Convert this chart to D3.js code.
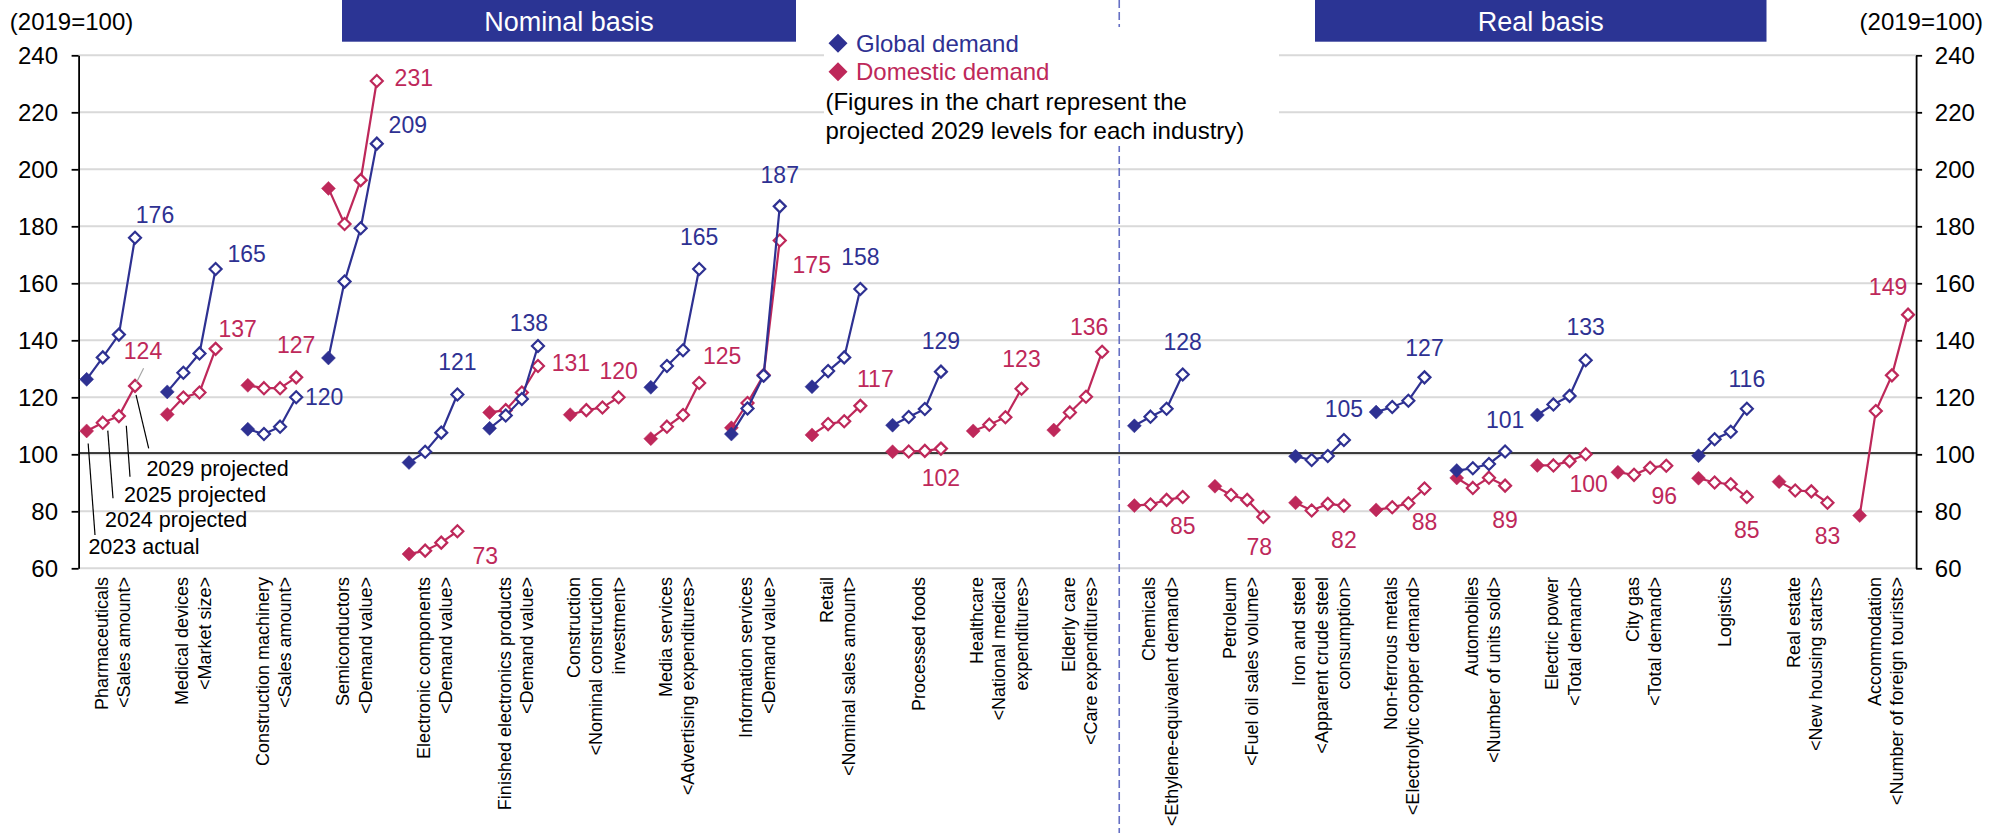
<!DOCTYPE html>
<html>
<head>
<meta charset="utf-8">
<script src="https://cdn.jsdelivr.net/npm/d3@7/dist/d3.min.js"></script>
<style>
  html, body { margin: 0; padding: 0; background: #fff; }
  svg { display: block; font-family: "Liberation Sans", Arial, Helvetica, sans-serif; }
</style>
</head>
<body>
<svg id="chart" width="2004" height="833"></svg>
<script>
// Industry groups (label lines shown under the axis)
const categories = [
  ["Pharmaceuticals", "<Sales amount>"],
  ["Medical devices", "<Market size>"],
  ["Construction machinery", "<Sales amount>"],
  ["Semiconductors", "<Demand value>"],
  ["Electronic components", "<Demand value>"],
  ["Finished electronics products", "<Demand value>"],
  ["Construction", "<Nominal construction", "investment>"],
  ["Media services", "<Advertising expenditures>"],
  ["Information services", "<Demand value>"],
  ["Retail", "<Nominal sales amount>"],
  ["Processed foods"],
  ["Healthcare", "<National medical", "expenditures>"],
  ["Elderly care", "<Care expenditures>"],
  ["Chemicals", "<Ethylene-equivalent demand>"],
  ["Petroleum", "<Fuel oil sales volume>"],
  ["Iron and steel", "<Apparent crude steel", "consumption>"],
  ["Non-ferrous metals", "<Electrolytic copper demand>"],
  ["Automobiles", "<Number of units sold>"],
  ["Electric power", "<Total demand>"],
  ["City gas", "<Total demand>"],
  ["Logistics"],
  ["Real estate", "<New housing starts>"],
  ["Accommodation", "<Number of foreign tourists>"]
];
const nominalCount = 13;

const years = ["2023 actual", "2024 projected", "2025 projected", "2029 projected"];

// Index values (2019 = 100): 2023, 2024, 2025, 2029
const globalDemand = [
  [126.3, 134.0, 142.0, 176],
  [121.9, 128.6, 135.4, 165],
  [108.8, 107.1, 109.7, 120],
  [133.8, 160.6, 179.3, 209],
  [97.1, 100.9, 107.6, 121],
  [109.1, 113.6, 119.4, 138],
  null,
  [123.5, 131.0, 136.5, 165],
  [107.1, 116.1, 127.6, 187],
  [123.7, 129.2, 134.0, 158],
  [110.2, 113.1, 115.9, 129],
  null,
  null,
  [110.0, 113.2, 116.0, 128],
  null,
  [99.3, 98.0, 99.4, 105],
  [114.8, 116.6, 118.8, 127],
  [94.3, 95.1, 96.6, 101],
  [113.8, 117.5, 120.5, 133],
  null,
  [99.5, 105.3, 107.9, 116],
  null,
  null
];

const domesticDemand = [
  [108.2, 111.1, 113.4, 124],
  [114.0, 119.9, 121.7, 137],
  [124.2, 123.2, 123.2, 127],
  [193.3, 180.8, 196.2, 231],
  [65.0, 66.2, 69.0, 73],
  [114.7, 115.5, 121.7, 131],
  [113.9, 115.5, 116.4, 120],
  [105.5, 109.7, 113.8, 125],
  [109.3, 118.0, 127.8, 175],
  [106.8, 110.6, 111.6, 117],
  [100.9, 101.0, 101.2, 102],
  [108.2, 110.4, 113.0, 123],
  [108.5, 114.7, 120.2, 136],
  [82.0, 82.4, 84.0, 85],
  [88.8, 85.7, 84.0, 78],
  [83.0, 80.3, 82.6, 82],
  [80.5, 81.4, 82.8, 88],
  [91.7, 88.2, 91.8, 89],
  [96.1, 96.1, 97.6, 100],
  [93.7, 92.8, 95.3, 96],
  [91.6, 90.1, 89.5, 85],
  [90.4, 87.3, 87.0, 83],
  [78.5, 115.2, 127.7, 149]
];

const yTicks = [60, 80, 100, 120, 140, 160, 180, 200, 220, 240];

// Where each 2029 value label sits relative to its marker [dx, dy]
const globalLabelOffset = [
  [20, -23], [31, -15], [28, 0], [31, -19], [0, -32], [-9, -23], null, [0, -32],
  [0, -31], [0, -32], [0, -31], null, null, [0, -33], null, [0, -31],
  [0, -29], [0, -31], [0, -33], null, [0, -30], null, null
];
const domesticLabelOffset = [
  [8, -35], [22, -20], [0, -32], [37, -3], [28, 25], [33, -3], [0, -26], [23, -27],
  [32, 24], [15, -27], [0, 29], [0, -30], [-13, -25], [0, 29], [-4, 30], [0, 34],
  [0, 33], [0, 34], [3, 30], [-2, 30], [0, 33], [0, 33], [-20, -28]
];

const BLUE = "#2e3192";
const RED = "#be285a";
const HEADER = "#2b3494";

const svg = d3.select("#chart");

const slotsPerGroup = 5;
const x = d3.scaleLinear().domain([-0.5, categories.length * slotsPerGroup - 1.5]).range([78.6, 1916.1]);
const y = d3.scaleLinear().domain([60, 240]).range([568.3, 55.3]);
const xLeft = x.range()[0], xRight = x.range()[1];
const slot = (g, k) => g * slotsPerGroup + k;

// Horizontal gridlines
svg.append("g").selectAll("line").data(yTicks).join("line")
  .attr("x1", xLeft).attr("x2", xRight)
  .attr("y1", d => y(d)).attr("y2", d => y(d))
  .attr("stroke", "#d9d9d9").attr("stroke-width", 2);

// Reference line at 100
svg.append("line")
  .attr("x1", xLeft).attr("x2", xRight)
  .attr("y1", y(100) - 1.3).attr("y2", y(100) - 1.3)
  .attr("stroke", "#000").attr("stroke-width", 1.5);

// Divider between nominal and real basis
const divX = x(slot(nominalCount, -1)) + 1;
svg.append("line")
  .attr("x1", divX).attr("x2", divX).attr("y1", 0).attr("y2", 833)
  .attr("stroke", "#6670c4").attr("stroke-width", 1.6)
  .attr("stroke-dasharray", "8,4");

// Section headers
const headers = [
  { text: "Nominal basis", x0: 342, x1: 796 },
  { text: "Real basis", x0: 1315, x1: 1766.5 }
];
headers.forEach(h => {
  svg.append("rect").attr("x", h.x0).attr("y", 0).attr("width", h.x1 - h.x0).attr("height", 41.7)
    .attr("fill", HEADER);
  svg.append("text").attr("x", (h.x0 + h.x1) / 2).attr("y", 21.5)
    .attr("text-anchor", "middle").attr("dominant-baseline", "central")
    .attr("fill", "#fff").attr("font-size", 27).text(h.text);
});

// Axes
const axisL = svg.append("g").attr("transform", `translate(${xLeft},0)`)
  .call(d3.axisLeft(y).tickValues(yTicks).tickSize(7).tickSizeOuter(0).tickPadding(13.6));
const axisR = svg.append("g").attr("transform", `translate(${xRight},0)`)
  .call(d3.axisRight(y).tickValues(yTicks).tickSize(6).tickSizeOuter(0).tickPadding(12.7));
[axisL, axisR].forEach(a => {
  a.select(".domain").attr("stroke", "#000").attr("stroke-width", 1.8);
  a.selectAll(".tick line").attr("stroke", "#000").attr("stroke-width", 1.8);
  a.selectAll(".tick text").attr("font-size", 24).attr("fill", "#000")
    .attr("font-family", "Liberation Sans, Arial, sans-serif").attr("dy", null)
    .attr("dominant-baseline", "central");
});

// Unit captions
svg.append("text").attr("x", 9.8).attr("y", 21).attr("dominant-baseline", "central")
  .attr("font-size", 24).text("(2019=100)");
svg.append("text").attr("x", 1983).attr("y", 21).attr("dominant-baseline", "central")
  .attr("text-anchor", "end").attr("font-size", 24).text("(2019=100)");

// Legend
const legend = svg.append("g");
legend.append("rect").attr("x", 824).attr("y", 27).attr("width", 455).attr("height", 119).attr("fill", "#fff");
const diamond = r => `M0,${-r}L${r},0L0,${r}L${-r},0Z`;
[[BLUE, "Global demand", 43.3], [RED, "Domestic demand", 71.7]].forEach(([c, t, yy]) => {
  legend.append("path").attr("d", diamond(9.5)).attr("transform", `translate(838,${yy})`).attr("fill", c);
  legend.append("text").attr("x", 856).attr("y", yy).attr("dominant-baseline", "central")
    .attr("font-size", 24).attr("fill", c).text(t);
});
legend.append("text").attr("x", 825.4).attr("y", 101.7).attr("dominant-baseline", "central")
  .attr("font-size", 24).text("(Figures in the chart represent the");
legend.append("text").attr("x", 825.4).attr("y", 130.7).attr("dominant-baseline", "central")
  .attr("font-size", 24).text("projected 2029 levels for each industry)");

// Category labels (rotated)
const catG = svg.append("g");
categories.forEach((lines, g) => {
  const cx = (x(slot(g, 0)) + x(slot(g, 3))) / 2 + 2;
  const n = lines.length;
  lines.forEach((t, i) => {
    const lx = cx + (i - (n - 1) / 2) * 22.3;
    catG.append("text")
      .attr("transform", `translate(${lx},577) rotate(-90)`)
      .attr("text-anchor", "end").attr("dominant-baseline", "central")
      .attr("font-size", 18).attr("fill", "#000").text(t);
  });
});

// Year annotations with leader lines on the first group
const ann = svg.append("g");
const annSpec = [
  { k: 0, from: [1.5, 12.5], to: [95, 535], tx: 88.4, ty: 546.7 },
  { k: 1, from: [5, 8], to: [113, 498.3], tx: 105, ty: 520 },
  { k: 2, from: [7.4, 9.6], to: [130, 476.7], tx: 124, ty: 495 },
  { k: 3, from: [1, 9], to: [148.7, 448.3], tx: 146.4, ty: 469.3 }
];
annSpec.forEach(a => {
  const px = x(slot(0, a.k)), py = y(domesticDemand[0][a.k]);
  ann.append("line").attr("x1", px + a.from[0]).attr("y1", py + a.from[1])
    .attr("x2", a.to[0]).attr("y2", a.to[1]).attr("stroke", "#000").attr("stroke-width", 1.2);
  ann.append("text").attr("x", a.tx).attr("y", a.ty).attr("dominant-baseline", "central")
    .attr("font-size", 21.5).attr("fill", "#000").text(years[a.k]);
});

// Series lines and markers
function drawSeries(data, color, offsets) {
  const g = svg.append("g");
  const line = d3.line().x(d => x(d.s)).y(d => y(d.v));
  data.forEach((vals, gi) => {
    if (!vals) return;
    const pts = vals.map((v, k) => ({ s: slot(gi, k), v, k }));
    g.append("path").attr("d", line(pts)).attr("fill", "none")
      .attr("stroke", color).attr("stroke-width", 2.2);
    g.selectAll(null).data(pts).join("path")
      .attr("transform", d => `translate(${x(d.s)},${y(d.v)})`)
      .attr("d", d => d.k === 0 ? diamond(7) : diamond(6))
      .attr("fill", d => d.k === 0 ? color : "#fff")
      .attr("stroke", color)
      .attr("stroke-width", d => d.k === 0 ? 0.5 : 2.2);
    const off = offsets[gi];
    if (off) {
      const last = pts[3];
      g.append("text")
        .attr("x", x(last.s) + off[0]).attr("y", y(last.v) + off[1])
        .attr("text-anchor", "middle").attr("dominant-baseline", "central")
        .attr("font-size", 23).attr("fill", color).text(d3.format("d")(last.v));
    }
  });
  return g;
}

drawSeries(domesticDemand, RED, domesticLabelOffset);
drawSeries(globalDemand, BLUE, globalLabelOffset);

// Short leader from the first group's domestic label to its 2029 marker
{
  const px = x(slot(0, 3)), py = y(domesticDemand[0][3]);
  svg.append("line").attr("x1", px + 8.6).attr("y1", py - 17.6)
    .attr("x2", px + 1.2).attr("y2", py - 3).attr("stroke", "#a6a6a6").attr("stroke-width", 1.2);
}
</script>
</body>
</html>
